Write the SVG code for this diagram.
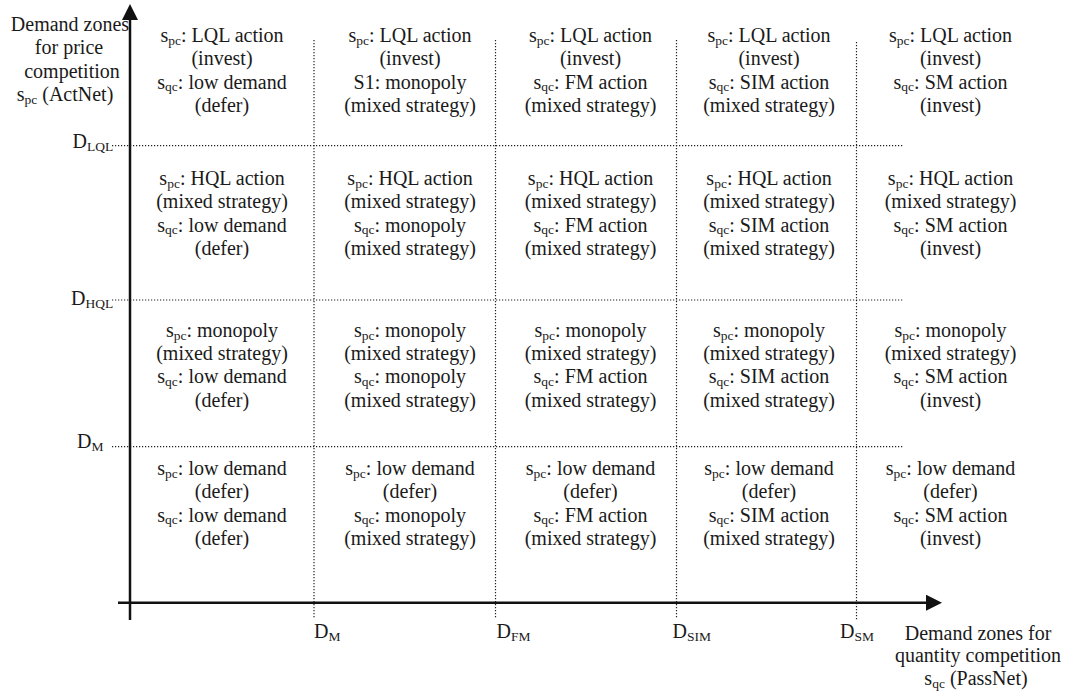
<svg xmlns="http://www.w3.org/2000/svg" width="1070" height="692" viewBox="0 0 1070 692" font-family="'Liberation Serif', 'DejaVu Serif', serif">
<style>
text{font-family:'Liberation Serif','DejaVu Serif',serif;font-size:20px;fill:#1a1a1a}
.c{text-anchor:middle}
.sub{font-size:13.5px}
.grid{stroke:#222;stroke-width:1.2;stroke-dasharray:1.2 1.8;fill:none}
.axis{stroke:#111;stroke-width:2.5;fill:none}
</style>
<defs>
<marker id="arr" markerUnits="userSpaceOnUse" markerWidth="16" markerHeight="16" viewBox="0 0 16 16" refX="0" refY="8" orient="auto">
<path d="M0,0 L16,8 L0,16 z" fill="#111"/>
</marker>
</defs>
<rect width="1070" height="692" fill="#fff"/>
<g id="gridlines">
<line class="grid" x1="112" y1="145.7" x2="903" y2="145.7"/>
<line class="grid" x1="112" y1="300" x2="903" y2="300"/>
<line class="grid" x1="112" y1="446.7" x2="903" y2="446.7"/>
<line class="grid" x1="314" y1="40" x2="314" y2="619"/>
<line class="grid" x1="495.5" y1="40" x2="495.5" y2="619"/>
<line class="grid" x1="676.5" y1="40" x2="676.5" y2="619"/>
<line class="grid" x1="856.5" y1="42" x2="856.5" y2="620"/>
</g>
<g id="connectors">
<line class="axis" x1="130" y1="620" x2="130" y2="20" marker-end="url(#arr)"/>
<line class="axis" x1="118" y1="602.7" x2="926" y2="602.7" marker-end="url(#arr)"/>
</g>
<g id="y-axis-label">
<text class="c" x="70" y="30.5">Demand zones</text>
<text class="c" x="69" y="54">for price</text>
<text class="c" x="72" y="77.5">competition</text>
<text class="c" x="65" y="101">s<tspan class="sub" dy="2.5">pc</tspan><tspan dy="-2.5"> (ActNet)</tspan></text>
</g>
<g id="x-axis-label">
<text class="c" x="978" y="640">Demand zones for</text>
<text class="c" x="978" y="662">quantity competition</text>
<text class="c" x="976" y="685">s<tspan class="sub" dy="2.5">qc</tspan><tspan dy="-2.5"> (PassNet)</tspan></text>
</g>
<g id="y-thresholds">
<text x="72.5" y="148">D<tspan class="sub" dy="2.5">LQL</tspan></text>
<text x="71" y="305">D<tspan class="sub" dy="2.5">HQL</tspan></text>
<text x="77" y="448">D<tspan class="sub" dy="2.5">M</tspan></text>
</g>
<g id="x-thresholds">
<text x="314" y="638">D<tspan class="sub" dy="2.5">M</tspan></text>
<text x="496.5" y="638">D<tspan class="sub" dy="2.5">FM</tspan></text>
<text x="672.5" y="638">D<tspan class="sub" dy="2.5">SIM</tspan></text>
<text x="840" y="638">D<tspan class="sub" dy="2.5">SM</tspan></text>
</g>
<!-- Row 1 -->
<g id="cell-r1-c1">
<text class="c" x="222" y="42">s<tspan class="sub" dy="2.5">pc</tspan><tspan dy="-2.5">: LQL action</tspan></text>
<text class="c" x="222" y="65.3">(invest)</text>
<text class="c" x="222" y="88.6">s<tspan class="sub" dy="2.5">qc</tspan><tspan dy="-2.5">: low demand</tspan></text>
<text class="c" x="222" y="112">(defer)</text>
</g>
<g id="cell-r1-c2">
<text class="c" x="410" y="42">s<tspan class="sub" dy="2.5">pc</tspan><tspan dy="-2.5">: LQL action</tspan></text>
<text class="c" x="410" y="65.3">(invest)</text>
<text class="c" x="410" y="88.6">S1: monopoly</text>
<text class="c" x="410" y="112">(mixed strategy)</text>
</g>
<g id="cell-r1-c3">
<text class="c" x="590.5" y="42">s<tspan class="sub" dy="2.5">pc</tspan><tspan dy="-2.5">: LQL action</tspan></text>
<text class="c" x="590.5" y="65.3">(invest)</text>
<text class="c" x="590.5" y="88.6">s<tspan class="sub" dy="2.5">qc</tspan><tspan dy="-2.5">: FM action</tspan></text>
<text class="c" x="590.5" y="112">(mixed strategy)</text>
</g>
<g id="cell-r1-c4">
<text class="c" x="769" y="42">s<tspan class="sub" dy="2.5">pc</tspan><tspan dy="-2.5">: LQL action</tspan></text>
<text class="c" x="769" y="65.3">(invest)</text>
<text class="c" x="769" y="88.6">s<tspan class="sub" dy="2.5">qc</tspan><tspan dy="-2.5">: SIM action</tspan></text>
<text class="c" x="769" y="112">(mixed strategy)</text>
</g>
<g id="cell-r1-c5">
<text class="c" x="950.5" y="42">s<tspan class="sub" dy="2.5">pc</tspan><tspan dy="-2.5">: LQL action</tspan></text>
<text class="c" x="950.5" y="65.3">(invest)</text>
<text class="c" x="950.5" y="88.6">s<tspan class="sub" dy="2.5">qc</tspan><tspan dy="-2.5">: SM action</tspan></text>
<text class="c" x="950.5" y="112">(invest)</text>
</g>
<!-- Row 2 -->
<g id="cell-r2-c1">
<text class="c" x="222" y="185">s<tspan class="sub" dy="2.5">pc</tspan><tspan dy="-2.5">: HQL action</tspan></text>
<text class="c" x="222" y="208.3">(mixed strategy)</text>
<text class="c" x="222" y="231.6">s<tspan class="sub" dy="2.5">qc</tspan><tspan dy="-2.5">: low demand</tspan></text>
<text class="c" x="222" y="255">(defer)</text>
</g>
<g id="cell-r2-c2">
<text class="c" x="410" y="185">s<tspan class="sub" dy="2.5">pc</tspan><tspan dy="-2.5">: HQL action</tspan></text>
<text class="c" x="410" y="208.3">(mixed strategy)</text>
<text class="c" x="410" y="231.6">s<tspan class="sub" dy="2.5">qc</tspan><tspan dy="-2.5">: monopoly</tspan></text>
<text class="c" x="410" y="255">(mixed strategy)</text>
</g>
<g id="cell-r2-c3">
<text class="c" x="590.5" y="185">s<tspan class="sub" dy="2.5">pc</tspan><tspan dy="-2.5">: HQL action</tspan></text>
<text class="c" x="590.5" y="208.3">(mixed strategy)</text>
<text class="c" x="590.5" y="231.6">s<tspan class="sub" dy="2.5">qc</tspan><tspan dy="-2.5">: FM action</tspan></text>
<text class="c" x="590.5" y="255">(mixed strategy)</text>
</g>
<g id="cell-r2-c4">
<text class="c" x="769" y="185">s<tspan class="sub" dy="2.5">pc</tspan><tspan dy="-2.5">: HQL action</tspan></text>
<text class="c" x="769" y="208.3">(mixed strategy)</text>
<text class="c" x="769" y="231.6">s<tspan class="sub" dy="2.5">qc</tspan><tspan dy="-2.5">: SIM action</tspan></text>
<text class="c" x="769" y="255">(mixed strategy)</text>
</g>
<g id="cell-r2-c5">
<text class="c" x="950.5" y="185">s<tspan class="sub" dy="2.5">pc</tspan><tspan dy="-2.5">: HQL action</tspan></text>
<text class="c" x="950.5" y="208.3">(mixed strategy)</text>
<text class="c" x="950.5" y="231.6">s<tspan class="sub" dy="2.5">qc</tspan><tspan dy="-2.5">: SM action</tspan></text>
<text class="c" x="950.5" y="255">(invest)</text>
</g>
<!-- Row 3 -->
<g id="cell-r3-c1">
<text class="c" x="222" y="337">s<tspan class="sub" dy="2.5">pc</tspan><tspan dy="-2.5">: monopoly</tspan></text>
<text class="c" x="222" y="360">(mixed strategy)</text>
<text class="c" x="222" y="383.3">s<tspan class="sub" dy="2.5">qc</tspan><tspan dy="-2.5">: low demand</tspan></text>
<text class="c" x="222" y="406.5">(defer)</text>
</g>
<g id="cell-r3-c2">
<text class="c" x="410" y="337">s<tspan class="sub" dy="2.5">pc</tspan><tspan dy="-2.5">: monopoly</tspan></text>
<text class="c" x="410" y="360">(mixed strategy)</text>
<text class="c" x="410" y="383.3">s<tspan class="sub" dy="2.5">qc</tspan><tspan dy="-2.5">: monopoly</tspan></text>
<text class="c" x="410" y="406.5">(mixed strategy)</text>
</g>
<g id="cell-r3-c3">
<text class="c" x="590.5" y="337">s<tspan class="sub" dy="2.5">pc</tspan><tspan dy="-2.5">: monopoly</tspan></text>
<text class="c" x="590.5" y="360">(mixed strategy)</text>
<text class="c" x="590.5" y="383.3">s<tspan class="sub" dy="2.5">qc</tspan><tspan dy="-2.5">: FM action</tspan></text>
<text class="c" x="590.5" y="406.5">(mixed strategy)</text>
</g>
<g id="cell-r3-c4">
<text class="c" x="769" y="337">s<tspan class="sub" dy="2.5">pc</tspan><tspan dy="-2.5">: monopoly</tspan></text>
<text class="c" x="769" y="360">(mixed strategy)</text>
<text class="c" x="769" y="383.3">s<tspan class="sub" dy="2.5">qc</tspan><tspan dy="-2.5">: SIM action</tspan></text>
<text class="c" x="769" y="406.5">(mixed strategy)</text>
</g>
<g id="cell-r3-c5">
<text class="c" x="950.5" y="337">s<tspan class="sub" dy="2.5">pc</tspan><tspan dy="-2.5">: monopoly</tspan></text>
<text class="c" x="950.5" y="360">(mixed strategy)</text>
<text class="c" x="950.5" y="383.3">s<tspan class="sub" dy="2.5">qc</tspan><tspan dy="-2.5">: SM action</tspan></text>
<text class="c" x="950.5" y="406.5">(invest)</text>
</g>
<!-- Row 4 -->
<g id="cell-r4-c1">
<text class="c" x="222" y="475">s<tspan class="sub" dy="2.5">pc</tspan><tspan dy="-2.5">: low demand</tspan></text>
<text class="c" x="222" y="498">(defer)</text>
<text class="c" x="222" y="521.5">s<tspan class="sub" dy="2.5">qc</tspan><tspan dy="-2.5">: low demand</tspan></text>
<text class="c" x="222" y="545">(defer)</text>
</g>
<g id="cell-r4-c2">
<text class="c" x="410" y="475">s<tspan class="sub" dy="2.5">pc</tspan><tspan dy="-2.5">: low demand</tspan></text>
<text class="c" x="410" y="498">(defer)</text>
<text class="c" x="410" y="521.5">s<tspan class="sub" dy="2.5">qc</tspan><tspan dy="-2.5">: monopoly</tspan></text>
<text class="c" x="410" y="545">(mixed strategy)</text>
</g>
<g id="cell-r4-c3">
<text class="c" x="590.5" y="475">s<tspan class="sub" dy="2.5">pc</tspan><tspan dy="-2.5">: low demand</tspan></text>
<text class="c" x="590.5" y="498">(defer)</text>
<text class="c" x="590.5" y="521.5">s<tspan class="sub" dy="2.5">qc</tspan><tspan dy="-2.5">: FM action</tspan></text>
<text class="c" x="590.5" y="545">(mixed strategy)</text>
</g>
<g id="cell-r4-c4">
<text class="c" x="769" y="475">s<tspan class="sub" dy="2.5">pc</tspan><tspan dy="-2.5">: low demand</tspan></text>
<text class="c" x="769" y="498">(defer)</text>
<text class="c" x="769" y="521.5">s<tspan class="sub" dy="2.5">qc</tspan><tspan dy="-2.5">: SIM action</tspan></text>
<text class="c" x="769" y="545">(mixed strategy)</text>
</g>
<g id="cell-r4-c5">
<text class="c" x="950.5" y="475">s<tspan class="sub" dy="2.5">pc</tspan><tspan dy="-2.5">: low demand</tspan></text>
<text class="c" x="950.5" y="498">(defer)</text>
<text class="c" x="950.5" y="521.5">s<tspan class="sub" dy="2.5">qc</tspan><tspan dy="-2.5">: SM action</tspan></text>
<text class="c" x="950.5" y="545">(invest)</text>
</g>
</svg>
